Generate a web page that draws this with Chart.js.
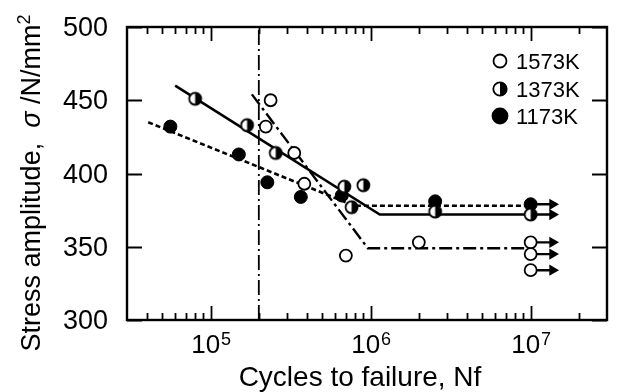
<!DOCTYPE html>
<html>
<head>
<meta charset="utf-8">
<script src="https://cdn.jsdelivr.net/npm/chart.js@4.4.0/dist/chart.umd.min.js"></script>
<style>
  html, body { margin: 0; padding: 0; background: #fff; }
</style>
</head>
<body>
<canvas id="snChart" width="618" height="392"></canvas>
<script>
// S-N data: cycles to failure / stress amplitude (N/mm^2)
const n1573 = [2.21e5, 2.37e5, 3.33e5, 3.85e5, 7.0e5, 2.0e6, 1e7, 1e7, 1e7];
const s1573 = [432, 450, 414, 393, 344, 353, 353, 345, 334];
const n1373 = [8.0e4, 1.69e5, 2.55e5, 6.85e5, 7.6e5, 9.0e5, 2.53e6, 1e7];
const s1373 = [451, 433, 414, 391, 377, 392, 374, 372];
const n1173 = [5.6e4, 1.5e5, 2.26e5, 3.66e5, 6.6e5, 2.53e6, 1e7];
const s1173 = [432, 413, 394, 384, 385, 381, 379];

// fitted lines: sloped part, knee, then flat endurance limit
const fit1573N = [1.81e5, 9.6e5, 1e7];
const fit1573S = [454, 349, 349];
const fit1373N = [6.0e4, 1.14e6, 1e7];
const fit1373S = [460, 372, 372];
const fit1173N = [4.07e4, 7.9e5, 1e7];
const fit1173S = [435, 378, 378];

// run-outs at 10^7 (arrows)
const runoutStress = [379, 372, 353, 345, 334];
const runoutFrom = 1e7;
const runoutTo = 1.37e7;

const refN = 2e5; // vertical dash-dot line

const legendLabels = ["1573K", "1373K", "1173K"];
const xRange = [3e4, 3e7];
const yRange = [300, 500];
const yTicks = [300, 350, 400, 450, 500];
const xDecades = [5, 6, 7];
const xMinor = [4e4, 5e4, 6e4, 7e4, 8e4, 9e4,
                2e5, 3e5, 4e5, 5e5, 6e5, 7e5, 8e5, 9e5,
                2e6, 3e6, 4e6, 5e6, 6e6, 7e6, 8e6, 9e6, 2e7];

const FONT = '"Liberation Sans", Arial, Helvetica, sans-serif';

const pts = (xs, ys) => xs.map((v, i) => ({ x: v, y: ys[i] }));

function halfDot(r) {
    const c = document.createElement("canvas");
    const s = Math.ceil(2 * r + 4);
    c.width = s; c.height = s;
    const g = c.getContext("2d");
    const m = s / 2;
    g.fillStyle = "#fff";
    g.beginPath(); g.arc(m, m, r, 0, Math.PI * 2); g.fill();
    g.fillStyle = "#000";
    g.beginPath(); g.arc(m, m, r, -Math.PI / 2, Math.PI / 2); g.closePath(); g.fill();
    g.lineWidth = 1.8; g.strokeStyle = "#000";
    g.beginPath(); g.arc(m, m, r - 0.3, 0, Math.PI * 2); g.stroke();
    return c;
}
const halfMarker = halfDot(6.3);
const halfLegend = halfDot(7);

// arrows: pairs of points separated by a gap
const arrowData = [];
runoutStress.forEach(s => {
    arrowData.push({ x: runoutFrom, y: s }, { x: runoutTo, y: s }, { x: 1.2e7, y: null });
});

// axes, ticks, labels, legend drawn by hand so ticks point inward like the print
const frame = {
    id: "frame",
    afterDraw(chart) {
        const { ctx, chartArea: a, scales: { x, y } } = chart;
        ctx.save();
        ctx.strokeStyle = "#000";
        ctx.fillStyle = "#000";
        ctx.lineWidth = 2.4;
        ctx.strokeRect(a.left, a.top, a.right - a.left, a.bottom - a.top);

        ctx.lineWidth = 1.8;
        ctx.beginPath();
        xMinor.forEach(v => {
            const px = Math.round(x.getPixelForValue(v)) + 0.5;
            ctx.moveTo(px, a.bottom); ctx.lineTo(px, a.bottom - 7);
            ctx.moveTo(px, a.top); ctx.lineTo(px, a.top + 7);
        });
        xDecades.forEach(d => {
            const px = Math.round(x.getPixelForValue(Math.pow(10, d))) + 0.5;
            ctx.moveTo(px, a.bottom); ctx.lineTo(px, a.bottom - 14);
            ctx.moveTo(px, a.top); ctx.lineTo(px, a.top + 14);
        });
        yTicks.forEach(v => {
            const py = Math.round(y.getPixelForValue(v)) + 0.5;
            ctx.moveTo(a.left, py); ctx.lineTo(a.left + 15, py);
            ctx.moveTo(a.right, py); ctx.lineTo(a.right - 15, py);
        });
        ctx.stroke();

        // y tick labels
        ctx.font = "27px " + FONT;
        ctx.textAlign = "right";
        ctx.textBaseline = "alphabetic";
        yTicks.forEach(v => {
            ctx.fillText(String(v), a.left - 19, y.getPixelForValue(v) + 9);
        });

        // x tick labels 10^n
        ctx.textAlign = "left";
        xDecades.forEach(d => {
            const px = x.getPixelForValue(Math.pow(10, d));
            ctx.font = "26px " + FONT;
            const w1 = ctx.measureText("10").width;
            ctx.font = "18px " + FONT;
            const w2 = ctx.measureText(String(d)).width;
            const x0 = px - (w1 + w2) / 2;
            ctx.font = "26px " + FONT;
            ctx.fillText("10", x0, 353);
            ctx.font = "18px " + FONT;
            ctx.fillText(String(d), x0 + w1 + 1, 345);
        });

        // x title
        ctx.font = "28px " + FONT;
        ctx.textAlign = "center";
        ctx.fillText("Cycles to failure, Nf", 360, 386);

        // y title with italic sigma and superscript 2
        const parts = [
            ["Stress amplitude,  ", "27px " + FONT, 0],
            ["\u03c3", "italic 27px " + FONT, 0],
            [" /N/mm", "27px " + FONT, 0],
            ["2", "18px " + FONT, -10]
        ];
        let total = 0;
        parts.forEach(p => { ctx.font = p[1]; total += ctx.measureText(p[0]).width; });
        ctx.translate(40, 183);
        ctx.rotate(-Math.PI / 2);
        ctx.textAlign = "left";
        let cx = -total / 2;
        parts.forEach(p => {
            ctx.font = p[1];
            ctx.fillText(p[0], cx, p[2]);
            cx += ctx.measureText(p[0]).width;
        });
        ctx.restore();

        // legend
        ctx.save();
        const rows = [61, 89, 116];
        rows.forEach((ry, i) => {
            const mx = 500;
            if (i === 1) {
                ctx.drawImage(halfLegend, mx - halfLegend.width / 2, ry - halfLegend.height / 2);
            } else {
                ctx.beginPath();
                ctx.arc(mx, ry, i === 0 ? 6.5 : 7.5, 0, Math.PI * 2);
                ctx.fillStyle = i === 0 ? "#fff" : "#000";
                ctx.fill();
                ctx.lineWidth = 1.8;
                ctx.strokeStyle = "#000";
                ctx.stroke();
            }
            ctx.fillStyle = "#000";
            ctx.font = "22px " + FONT;
            ctx.textAlign = "left";
            ctx.fillText(legendLabels[i], 516, ry + 8);
        });
        ctx.restore();
    }
};

new Chart(document.getElementById("snChart").getContext("2d"), {
    type: "scatter",
    data: {
        datasets: [
            {
                label: "1573K",
                data: pts(n1573, s1573),
                pointStyle: "circle",
                pointRadius: 6,
                backgroundColor: "#fff",
                borderColor: "#000",
                borderWidth: 1.8,
            },
            {
                label: "1373K",
                data: pts(n1373, s1373),
                pointStyle: halfMarker,
                pointRadius: 6,
            },
            {
                label: "1173K",
                data: pts(n1173, s1173),
                pointStyle: "circle",
                pointRadius: 6.5,
                backgroundColor: "#000",
                borderColor: "#000",
                borderWidth: 1,
            },
            {
                label: "run-out",
                data: arrowData,
                showLine: true,
                spanGaps: false,
                borderColor: "#000",
                borderWidth: 2.4,
                backgroundColor: "#000",
                pointStyle: "triangle",
                rotation: 90,
                pointBorderWidth: 0,
                pointRadius: ctx => (ctx.dataIndex % 3 === 1 ? 6.5 : 0),
            },
            {
                label: "fit 1573K",
                data: pts(fit1573N, fit1573S),
                showLine: true,
                pointRadius: 0,
                borderColor: "#000",
                borderWidth: 2.4,
                borderDash: [13, 4, 3, 4],
            },
            {
                label: "fit 1373K",
                data: pts(fit1373N, fit1373S),
                showLine: true,
                pointRadius: 0,
                borderColor: "#000",
                borderWidth: 2.6,
            },
            {
                label: "fit 1173K",
                data: pts(fit1173N, fit1173S),
                showLine: true,
                pointRadius: 0,
                borderColor: "#000",
                borderWidth: 2.6,
                borderDash: [5, 3],
            },
            {
                label: "2e5",
                data: pts([refN, refN], yRange),
                showLine: true,
                pointRadius: 0,
                borderColor: "#000",
                borderWidth: 1.8,
                borderDash: [15, 4, 2, 4],
            },
        ],
    },
    options: {
        responsive: false,
        animation: false,
        events: [],
        layout: { padding: { left: 127, top: 27, right: 11, bottom: 72 } },
        plugins: { legend: { display: false }, tooltip: { enabled: false } },
        scales: {
            x: { type: "logarithmic", min: xRange[0], max: xRange[1], display: false },
            y: { type: "linear", min: yRange[0], max: yRange[1], display: false },
        },
    },
    plugins: [frame],
});
</script>
</body>
</html>
